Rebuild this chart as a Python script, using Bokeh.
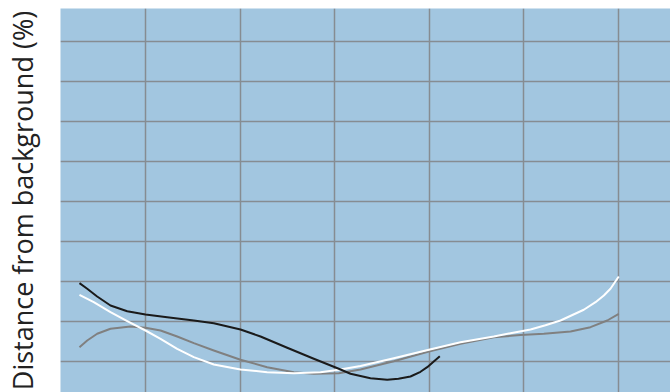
from bokeh.plotting import figure
from bokeh.models import Range1d, FixedTicker
from bokeh.embed import file_html
from bokeh.resources import INLINE

# Data
black_x = [0.302, 0.384, 0.489, 0.630, 0.807, 1.000, 1.229, 1.511, 1.722, 2.004, 2.216,
           2.498, 2.779, 3.043, 3.167, 3.378, 3.555, 3.674, 3.801, 3.907, 3.978, 4.111]
black_y = [29.58, 28.18, 26.25, 24.00, 22.58, 21.75, 21.08, 20.25, 19.58, 18.00, 16.25,
           13.43, 10.68, 8.18, 6.93, 5.83, 5.43, 5.68, 6.25, 7.43, 8.58, 11.33]

white_x = [0.302, 0.453, 0.630, 0.807, 1.000, 1.159, 1.335, 1.511, 1.722, 2.004, 2.286,
           2.568, 2.850, 3.043, 3.273, 3.625, 3.995, 4.330, 4.682, 4.858, 5.070, 5.228,
           5.387, 5.633, 5.757, 5.845, 5.915, 6.003]
white_y = [26.68, 24.83, 22.33, 20.08, 17.75, 15.68, 13.18, 11.08, 9.25, 8.00, 7.33,
           7.08, 7.33, 7.93, 8.88, 10.83, 12.93, 14.83, 16.25, 17.08, 18.00, 19.05,
           20.25, 22.93, 24.83, 26.50, 28.18, 31.25]

gray_x = [0.302, 0.384, 0.489, 0.630, 0.841, 1.000, 1.159, 1.335, 1.511, 1.722, 2.004,
          2.286, 2.568, 2.779, 3.043, 3.273, 3.625, 3.995, 4.330, 4.682, 4.964, 5.211,
          5.493, 5.704, 5.881, 6.003]
gray_y = [13.58, 15.25, 16.93, 18.18, 18.75, 18.43, 17.75, 16.25, 14.58, 12.75, 10.43,
          8.58, 7.33, 6.93, 7.08, 8.00, 10.08, 12.50, 14.43, 16.08, 16.60, 16.93,
          17.50, 18.58, 20.25, 21.93]

x_grid = [1, 2, 3, 4, 5, 6]
y_grid = [10, 20, 30, 40, 50, 60, 70, 80, 90]

p = figure(width=670, height=392, output_backend="svg", toolbar_location=None,
           x_range=Range1d(0.1015, 6.5497), y_range=Range1d(2.25, 98.25),
           min_border_left=60, min_border_right=0, min_border_top=8, min_border_bottom=0)

p.background_fill_color = "#a2c6e0"
p.border_fill_color = "white"
p.outline_line_color = None

p.xaxis.visible = False
p.yaxis.ticker = FixedTicker(ticks=[])
p.yaxis.axis_line_color = None
p.yaxis.major_tick_line_color = None
p.yaxis.minor_tick_line_color = None
p.yaxis.major_tick_out = 0
p.yaxis.major_label_standoff = 0
p.yaxis.axis_label = "Distance from background (%)"
p.yaxis.axis_label_text_font = "Open Sans"
p.yaxis.axis_label_text_font_size = "27px"
p.yaxis.axis_label_text_font_style = "normal"
p.yaxis.axis_label_text_color = "#222222"
p.yaxis.axis_label_standoff = 20

p.xgrid.ticker = FixedTicker(ticks=x_grid)
p.ygrid.ticker = FixedTicker(ticks=y_grid)
for g in (p.xgrid, p.ygrid):
    g.grid_line_color = "#868c92"
    g.grid_line_width = 1.5
    g.grid_line_alpha = 1.0

p.line(gray_x, gray_y, line_color="#808080", line_width=2, line_join="round")
p.line(white_x, white_y, line_color="#ffffff", line_width=2, line_join="round")
p.line(black_x, black_y, line_color="#1a1a1a", line_width=2, line_join="round")

open("out.html", "w").write(file_html(p, INLINE))
